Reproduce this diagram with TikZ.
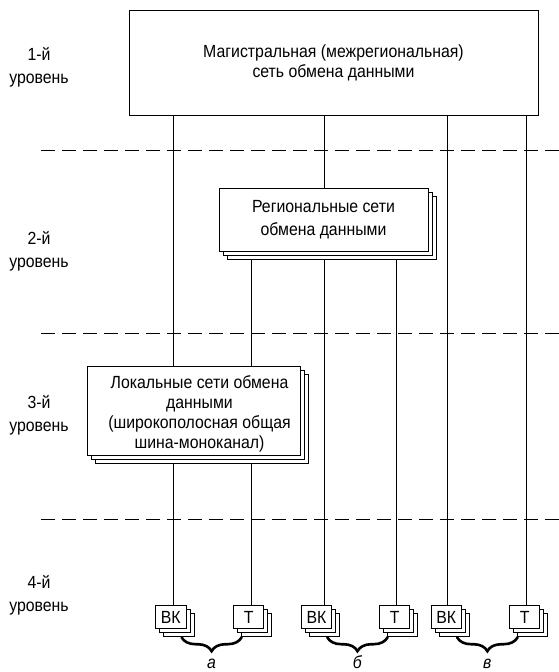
\documentclass[tikz,border=0pt]{standalone}
\usepackage{fontspec}
\setmainfont{Liberation Sans}[FakeStretch=0.9]
\usetikzlibrary{shadows,backgrounds,calc,decorations.pathreplacing}
\begin{document}
\begin{tikzpicture}[x=1pt,y=1pt,
  every node/.style={font=\fontsize{17.6}{20}\selectfont},
  boxnode/.style={draw, fill=white, line width=1pt, inner sep=0pt, align=center},
  stacked/.style={copy shadow={shadow xshift=8pt,shadow yshift=-8pt},
                  copy shadow={shadow xshift=4pt,shadow yshift=-4pt}},
  termbox/.style={boxnode, stacked, minimum width=30.5pt, minimum height=23.4pt},
  conn/.style={line width=0.9pt},
  levelline/.style={line width=1pt, dash pattern=on 14.3pt off 6.7pt},
  lvl/.style={align=center, inner sep=0pt, font=\fontsize{17.6}{23}\selectfont},
  grp/.style={decorate, decoration={brace, mirror, amplitude=14pt}, line width=2.6pt, line cap=round},
  grplbl/.style={font=\fontsize{17.6}{20}\selectfont\itshape, anchor=base, inner sep=0pt}
]
\useasboundingbox (0,0) rectangle (559,-672);

% level labels
\node[lvl] (l1) at (39,-67.5) {1-й\\уровень};
\node[lvl] (l2) at (39,-251.5) {2-й\\уровень};
\node[lvl] (l3) at (39,-415) {3-й\\уровень};
\node[lvl] (l4) at (39,-595.5) {4-й\\уровень};

% boxes
\node[boxnode, minimum width=409pt, minimum height=105pt] (top) at (333.5,-62.5)
  {Магистральная (межрегиональная)\\сеть обмена данными};
\node[boxnode, stacked, minimum width=209pt, minimum height=63pt,
      font=\fontsize{17.6}{22.7}\selectfont] (reg) at (323.5,-219.5)
  {Региональные сети\\обмена данными};
\node[boxnode, stacked, minimum width=213.5pt, minimum height=89pt] (loc) at (194,-410.5) {};
\node[align=center, inner sep=0pt] (loctext) at (199.5,-413.5)
  {Локальные сети обмена\\данными\\(широкополосная общая\\шина-моноканал)};

% terminal boxes
\node[termbox] (vka) at (170.8,-617) {ВК};
\node[termbox] (ta)  at (248.7,-617) {Т};
\node[termbox] (vkb) at (316.5,-617) {ВК};
\node[termbox] (tb)  at (394.7,-617) {Т};
\node[termbox] (vkv) at (446.3,-617) {ВК};
\node[termbox] (tv)  at (524.7,-617) {Т};

% line positions
\coordinate (x1) at (173,0);
\coordinate (x2) at (251,0);
\coordinate (x3) at (324,0);
\coordinate (x4) at (396,0);
\coordinate (x5) at (447,0);
\coordinate (x6) at (526,0);

\begin{scope}[on background layer]
  \fill[white] (0,0) rectangle (559,-672);
  \draw[levelline] (41,-150) -- (559,-150);
  \draw[levelline] (41,-333) -- (559,-333);
  \draw[levelline] (41,-519) -- (559,-519);
  \draw[conn] (top.south -| x1) -- (loc.north -| x1);
  \draw[conn] (loc.south -| x1) -- (vka.north -| x1);
  \draw[conn] (reg.south -| x2) -- (loc.north -| x2);
  \draw[conn] (loc.south -| x2) -- (ta.north -| x2);
  \draw[conn] (top.south -| x3) -- (reg.north -| x3);
  \draw[conn] (reg.south -| x3) -- (vkb.north -| x3);
  \draw[conn] (reg.south -| x4) -- (tb.north -| x4);
  \draw[conn] (top.south -| x5) -- (vkv.north -| x5);
  \draw[conn] (top.south -| x6) -- (tv.north -| x6);
\end{scope}

% braces
\draw[grp] ($(vka.south east)+(-5,-8)$) -- ($(ta.south west)+(8.7,-8)$)
  node[grplbl, midway, yshift=-31pt] (ga) {а};
\draw[grp] ($(vkb.south east)+(-5,-8)$) -- ($(tb.south west)+(8.7,-8)$)
  node[grplbl, midway, yshift=-31pt] (gb) {б};
\draw[grp] ($(vkv.south east)+(-5,-8)$) -- ($(tv.south west)+(8.7,-8)$)
  node[grplbl, midway, yshift=-31pt] (gv) {в};
\end{tikzpicture}
\end{document}
